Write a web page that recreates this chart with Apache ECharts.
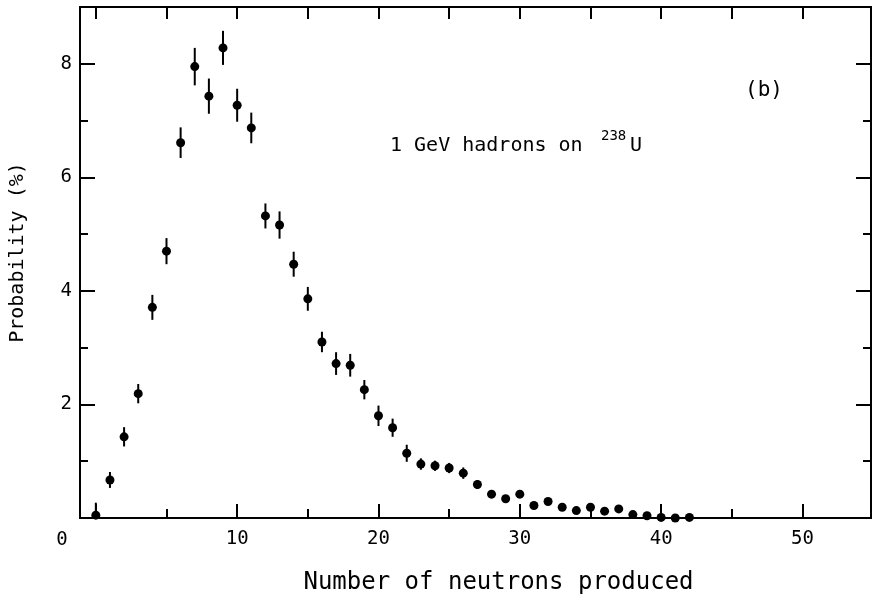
<!DOCTYPE html>
<html><head><meta charset="utf-8">
<script src="https://cdn.jsdelivr.net/npm/echarts@6/dist/echarts.min.js"></script>
<style>html,body{margin:0;padding:0;background:#fff}#c{width:874px;height:600px}</style>
</head><body><div id="c"></div>
<script>
// ---- data ----
const neutrons = [0,1,2,3,4,5,6,7,8,9,10,11,12,13,14,15,16,17,18,19,20,21,22,23,24,25,26,27,28,29,30,31,32,33,34,35,36,37,38,39,40,41,42];
const probability = [0.05,0.67,1.43,2.19,3.71,4.70,6.61,7.95,7.43,8.28,7.27,6.87,5.32,5.16,4.47,3.86,3.10,2.72,2.69,2.26,1.80,1.59,1.14,0.95,0.92,0.88,0.79,0.59,0.42,0.34,0.42,0.22,0.29,0.19,0.13,0.19,0.12,0.16,0.06,0.04,0.01,0.00,0.01];
const errors = [0.22,0.14,0.17,0.17,0.22,0.23,0.27,0.33,0.31,0.30,0.29,0.27,0.22,0.24,0.22,0.21,0.18,0.20,0.20,0.17,0.18,0.16,0.15,0.10,0.09,0.09,0.10,0.08,0.07,0.06,0.06,0.06,0.06,0.05,0.05,0.05,0.05,0.05,0.05,0.05,0.05,0.05,0.05];
const xMajorTicks = [0,10,20,30,40,50];
const xMinorTicks = [5,15,25,35,45];
const xTopTicks = [0,5,10,15,20,25,30,35,40,45,50];
const xTickLabels = [10,20,30,40,50];
const yMajorTicks = [2,4,6,8];
const yMinorTicks = [1,3,5,7];
const yTickLabels = [2,4,6,8];
const originLabel = '0';
const xTitle = 'Number of neutrons produced';
const yTitle = 'Probability (%)';
const annotationText = '1 GeV hadrons on';
const isotopeMass = '238';
const isotopeSymbol = 'U';
const panelLabel = '(b)';
const X_MIN = -1.12, X_MAX = 54.85, Y_MIN = 0, Y_MAX = 9;

// ---- chart ----
const FONT = '"DejaVu Sans Mono", "Liberation Mono", monospace';
const black = '#000';
const lineStyle = {color: black, width: 2};

function xAxisDef(position, ticks, len, opts) {
  return Object.assign({
    type: 'value', position, min: X_MIN, max: X_MAX,
    axisLine: {show: true, onZero: false, lineStyle},
    axisTick: {show: true, inside: true, length: len, customValues: ticks, lineStyle},
    axisLabel: {show: false},
    splitLine: {show: false}
  }, opts || {});
}
function yAxisDef(position, ticks, len, opts) {
  return Object.assign({
    type: 'value', position, min: Y_MIN, max: Y_MAX,
    axisLine: {show: true, onZero: false, lineStyle},
    axisTick: {show: true, inside: true, length: len, customValues: ticks, lineStyle},
    axisLabel: {show: false},
    splitLine: {show: false}
  }, opts || {});
}

const chart = echarts.init(document.getElementById('c'), null, {renderer: 'canvas'});
chart.setOption({
  animation: false,
  backgroundColor: '#fff',
  grid: {left: 80, right: 3, top: 7, bottom: 81, containLabel: false},
  xAxis: [
    xAxisDef('bottom', xMajorTicks, 14, {
      axisLabel: {show: true, customValues: xTickLabels, margin: 12, color: black,
        fontFamily: FONT, fontSize: 19},
      name: xTitle, nameLocation: 'middle', nameGap: 53,
      nameTextStyle: {color: black, fontFamily: FONT, fontSize: 24, padding: [0, 0, 0, 46]}
    }),
    xAxisDef('bottom', xMinorTicks, 9),
    xAxisDef('top', xTopTicks, 12)
  ],
  yAxis: [
    yAxisDef('left', yMajorTicks, 15, {
      axisLabel: {show: true, customValues: yTickLabels, margin: 8, color: black,
        fontFamily: FONT, fontSize: 19},
      name: yTitle, nameLocation: 'middle', nameGap: 52, nameRotate: 90,
      nameTextStyle: {color: black, fontFamily: FONT, fontSize: 20, padding: [0, 0, 0, 20]}
    }),
    yAxisDef('left', yMinorTicks, 8),
    yAxisDef('right', yMajorTicks, 15),
    yAxisDef('right', yMinorTicks, 8)
  ],
  graphic: [
    {type: 'text', x: 62, y: 540, style: {text: originLabel, font: '19px ' + FONT, fill: black, align: 'center', verticalAlign: 'middle'}},
    {type: 'text', x: 390, y: 146, style: {text: annotationText, font: '20px ' + FONT, fill: black, align: 'left', verticalAlign: 'middle'}},
    {type: 'text', x: 601, y: 136, style: {text: isotopeMass, font: '14px ' + FONT, fill: black, align: 'left', verticalAlign: 'middle'}},
    {type: 'text', x: 630, y: 146, style: {text: isotopeSymbol, font: '20px ' + FONT, fill: black, align: 'left', verticalAlign: 'middle'}},
    {type: 'text', x: 745, y: 91, style: {text: panelLabel, font: '21px ' + FONT, fill: black, align: 'left', verticalAlign: 'middle'}}
  ],
  series: [
    {
      type: 'custom', xAxisIndex: 0, yAxisIndex: 0, silent: true,
      data: neutrons.map((n, i) => [n, probability[i], errors[i]]),
      renderItem: function (params, api) {
        const x = api.value(0), v = api.value(1), e = api.value(2);
        const p1 = api.coord([x, Math.max(v - e, 0)]);
        const p2 = api.coord([x, v + e]);
        return {type: 'line', shape: {x1: p1[0], y1: p1[1], x2: p2[0], y2: p2[1]},
          style: {stroke: black, lineWidth: 2}};
      },
      clip: false, z: 2
    },
    {
      type: 'scatter', xAxisIndex: 0, yAxisIndex: 0, symbol: 'circle', symbolSize: 9,
      itemStyle: {color: black, opacity: 1},
      data: neutrons.map((n, i) => [n, probability[i]]), z: 3
    }
  ]
});
</script></body></html>
